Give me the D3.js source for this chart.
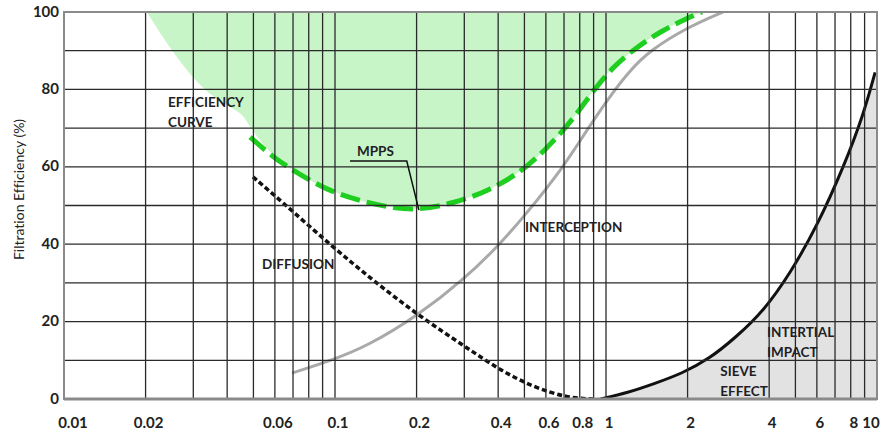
<!DOCTYPE html>
<html>
<head>
<meta charset="utf-8">
<script src="https://cdn.jsdelivr.net/npm/d3@7"></script>
<style>
  html, body { margin: 0; padding: 0; background: #fff; }
  svg { display: block; }
  text { font-family: Lato, "Open Sans", sans-serif; font-variant-ligatures: none; font-feature-settings: "liga" 0, "clig" 0; }
</style>
</head>
<body>
<svg id="chart" width="888" height="434"></svg>
<script>
// ---------- data ----------
const xTickLabels = [0.01, 0.02, 0.06, 0.1, 0.2, 0.4, 0.6, 0.8, 1, 2, 4, 6, 8, 10];
const xGridValues = [0.02, 0.03, 0.04, 0.05, 0.06, 0.07, 0.08, 0.09,
                     0.1, 0.2, 0.3, 0.4, 0.5, 0.6, 0.7, 0.8, 0.9,
                     1, 2, 4, 5, 6, 7, 8, 9];
const yTickLabels = [0, 20, 40, 60, 80, 100];
const yGridValues = [10, 20, 30, 40, 50, 60, 70, 80, 90];

// efficiency curve (green dashed)
const effX = [0.0486, 0.059, 0.0724, 0.0934, 0.1205, 0.16, 0.206, 0.272, 0.364, 0.511, 0.69, 0.80, 0.896, 1.06, 1.30, 1.62, 1.99, 2.26];
const effY = [67.7, 62.5, 58.4, 54.0, 51.4, 49.4, 48.8, 50.6, 53.5, 59.5, 69.0, 74.7, 79.6, 85.8, 91.0, 95.3, 98.4, 100];

// left edge of the green efficiency region
const regionEdgeX = [0.0202, 0.0252, 0.0326, 0.0403, 0.0458, 0.0478];
const regionEdgeY = [100, 89.4, 79.8, 75.7, 73.6, 70.8];

// interception (grey)
const intX = [0.0694, 0.098, 0.131, 0.202, 0.30, 0.40, 0.503, 0.69, 0.85, 1.04, 1.23, 1.45, 1.99, 2.70];
const intY = [6.7, 10.1, 13.6, 21.5, 31.0, 39.5, 47.5, 59.5, 69.5, 78.5, 85.0, 90.0, 96.0, 100];

// diffusion (black dotted)
const difX = [0.0498, 0.0627, 0.098, 0.138, 0.202, 0.307, 0.406, 0.538, 0.718, 0.896];
const difY = [57.4, 51.4, 39.3, 30.7, 21.7, 13.2, 7.5, 3.1, 0.3, 0];

// inertial impact / sieve effect (black solid)
const impX = [0.955, 1.202, 1.514, 1.905, 2.399, 3.020, 3.802, 4.786, 6.026, 7.586, 8.913, 9.84];
const impY = [0, 1.6, 4.0, 6.6, 10.3, 16.0, 22.6, 32.5, 44.8, 60.5, 73.5, 84.4];

// annotation texts, anchored in data units (x: particle size, y: efficiency)
const labelText = ["EFFICIENCY", "CURVE", "MPPS", "DIFFUSION", "INTERCEPTION", "INTERTIAL", "IMPACT", "SIEVE", "EFFECT"];
const labelX    = [0.0242, 0.0242, 0.1205, 0.0538, 0.503, 3.93, 3.93, 2.64, 2.64];
const labelY    = [76.7, 71.6, 64.1, 34.9, 44.4, 17.3, 12.1, 7.2, 2.1];

// MPPS leader line (data units)
const mppsLeaderX = [0.1136, 0.184, 0.204];
const mppsLeaderY = [61.5, 61.5, 48.8];

const yTitle = "Filtration Efficiency (%)";

// ---------- layout ----------
const svg = d3.select("#chart");
const pL = 64, pR = 877, pT = 12, pB = 399;
const x = d3.scaleLog().domain([0.01, 10]).range([pL, pR]);
const y = d3.scaleLinear().domain([0, 100]).range([pB, pT]);

const zip = (xs, ys) => xs.map((v, i) => [v, ys[i]]);

svg.append("defs").append("clipPath").attr("id", "plotClip")
  .append("rect").attr("x", pL).attr("y", pT)
  .attr("width", pR - pL).attr("height", pB - pT);

const plot = svg.append("g").attr("clip-path", "url(#plotClip)");

// green efficiency region (edge + efficiency curve, closed along 100 %)
const regionPts = zip(regionEdgeX, regionEdgeY).concat(zip(effX, effY).slice(1));
plot.append("path")
  .datum(regionPts)
  .attr("fill", "#c8f5c8")
  .attr("d", d3.area()
    .x(d => x(d[0]))
    .y0(d => y(d[1]))
    .y1(() => y(100))
    .curve(d3.curveBasis));

// grey region under inertial impact
const impPts = zip(impX, impY);
plot.append("path")
  .datum(impPts.concat([[10, impY[impY.length - 1]]]))
  .attr("fill", "#e2e2e2")
  .attr("d", d3.area()
    .x(d => x(d[0]))
    .y0(() => y(0))
    .y1(d => y(d[1]))
    .curve(d3.curveBasis));

// grid
const grid = svg.append("g");
grid.selectAll("line.v").data(xGridValues).join("line")
  .attr("class", "v")
  .attr("x1", d => x(d)).attr("x2", d => x(d))
  .attr("y1", pT).attr("y2", pB)
  .attr("stroke", "#2a2a2a").attr("stroke-width", 1.3);
grid.selectAll("line.h").data(yGridValues).join("line")
  .attr("class", "h")
  .attr("x1", pL).attr("x2", pR)
  .attr("y1", d => y(d)).attr("y2", d => y(d))
  .attr("stroke", "#2a2a2a").attr("stroke-width", 1.3);

// border
svg.append("rect")
  .attr("x", pL).attr("y", pT)
  .attr("width", pR - pL).attr("height", pB - pT)
  .attr("fill", "none").attr("stroke", "#8a8a8a").attr("stroke-width", 2);
svg.append("line")
  .attr("x1", pL).attr("x2", pR).attr("y1", pB).attr("y2", pB)
  .attr("stroke", "#8a8a8a").attr("stroke-width", 3);

// curves
const line = d3.line().x(d => x(d[0])).y(d => y(d[1])).curve(d3.curveBasis);

plot.append("path").datum(zip(intX, intY))
  .attr("fill", "none").attr("stroke", "#a9a9a9").attr("stroke-width", 3)
  .attr("d", line);

plot.append("path").datum(zip(difX, difY))
  .attr("fill", "none").attr("stroke", "#111").attr("stroke-width", 3.5)
  .attr("stroke-dasharray", "5,3")
  .attr("d", line);

plot.append("path").datum(impPts)
  .attr("fill", "none").attr("stroke", "#111").attr("stroke-width", 3)
  .attr("d", line);

plot.append("path").datum(zip(effX, effY))
  .attr("fill", "none").attr("stroke", "#1fcf1f").attr("stroke-width", 5)
  .attr("stroke-dasharray", "20,7")
  .attr("d", line);

// MPPS leader
svg.append("path").datum(zip(mppsLeaderX, mppsLeaderY))
  .attr("fill", "none").attr("stroke", "#111").attr("stroke-width", 1.5)
  .attr("d", d3.line().x(d => x(d[0])).y(d => y(d[1])));

// annotation labels
svg.append("g").selectAll("text").data(labelText).join("text")
  .attr("x", (d, i) => x(labelX[i]))
  .attr("y", (d, i) => y(labelY[i]) + 4.8)
  .attr("font-size", 13.5).attr("font-weight", "bold").attr("fill", "#1e1e24")
  .text(d => d);

// x tick labels
svg.append("g").selectAll("text").data(xTickLabels).join("text")
  .attr("x", d => x(d))
  .attr("dx", (d, i) => i === 0 ? 9 : (i === xTickLabels.length - 1 ? -6 : 3))
  .attr("y", 428)
  .attr("text-anchor", "middle")
  .attr("font-size", 15).attr("font-weight", "bold").attr("fill", "#222")
  .text(d => String(d));

// y tick labels
svg.append("g").selectAll("text").data(yTickLabels).join("text")
  .attr("x", 59)
  .attr("y", d => y(d) + 4.5)
  .attr("text-anchor", "end")
  .attr("font-size", 15).attr("font-weight", "bold").attr("fill", "#222")
  .text(d => String(d));

// y axis title
svg.append("text")
  .attr("transform", `translate(24,${(pT + pB) / 2 - 16}) rotate(-90)`)
  .attr("text-anchor", "middle")
  .attr("font-size", 14).attr("fill", "#222")
  .text(yTitle);
</script>
</body>
</html>
